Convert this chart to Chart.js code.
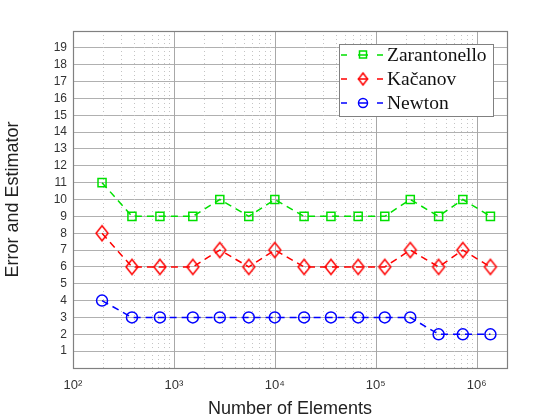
<!DOCTYPE html>
<html><head><meta charset="utf-8">
<script src="https://cdn.jsdelivr.net/npm/chart.js@4/dist/chart.umd.min.js"></script>
<style>html,body{margin:0;padding:0;background:#fff}#wrap{width:560px;height:420px}</style>
</head><body><div id="wrap"><canvas id="c" width="560" height="420"></canvas></div>
<script>
// ---- data ----
const elements = [194, 384, 727, 1540, 2850, 5520, 10000, 19500, 36000, 67000, 123000, 220000, 420000, 730000, 1370000];
const zarantonello = [11, 9, 9, 9, 10, 9, 10, 9, 9, 9, 9, 10, 9, 10, 9];
const kacanov = [8, 6, 6, 6, 7, 6, 7, 6, 6, 6, 6, 7, 6, 7, 6];
const newton = [4, 3, 3, 3, 3, 3, 3, 3, 3, 3, 3, 3, 2, 2, 2];
const seriesNames = ['Zarantonello', 'Kačanov', 'Newton'];
const xDecades = [100, 1000, 10000, 100000, 1000000];
const xTickLabels = ['10²', '10³', '10⁴', '10⁵', '10⁶'];
const yTickValues = [1,2,3,4,5,6,7,8,9,10,11,12,13,14,15,16,17,18,19];
const xTitle = 'Number of Elements';
const yTitle = 'Error and Estimator';

const GREEN = '#00e000', RED = '#ff0000', BLUE = '#0000ff';

function diamond(color, w, h, lw) {
  const c = document.createElement('canvas');
  c.width = w + 4; c.height = h + 4;
  const g = c.getContext('2d');
  g.strokeStyle = color; g.lineWidth = lw; g.lineJoin = 'miter';
  const cx = c.width / 2, cy = c.height / 2;
  g.beginPath();
  g.moveTo(cx, cy - h / 2); g.lineTo(cx + w / 2, cy);
  g.lineTo(cx, cy + h / 2); g.lineTo(cx - w / 2, cy); g.closePath(); g.stroke();
  return c;
}
const diamondImg = diamond(RED, 12, 15, 1.5);
const diamondLegend = diamond(RED, 9, 12, 1.5);

const toPts = arr => arr.map((v, i) => ({x: elements[i], y: v}));

function ds(label, values, color, style, radius) {
  return {
    label, data: toPts(values), borderColor: color, backgroundColor: color,
    borderWidth: 1.5, borderDash: [7, 5], tension: 0, fill: false,
    pointStyle: style, pointRadius: radius, pointHoverRadius: radius,
    pointBorderColor: color, pointBackgroundColor: 'rgba(0,0,0,0)', pointBorderWidth: 1.5
  };
}

const frame = {
  id: 'frame',
  beforeDatasetsDraw(chart) {
    const {ctx, chartArea: a, scales: {x}} = chart;
    ctx.save();
    ctx.lineWidth = 1;
    for (const d of xDecades) {
      for (let m = 2; m <= 9; m++) {
        const v = m * d;
        if (v >= x.max) continue;
        const px = Math.round(x.getPixelForValue(v)) + 0.5;
        ctx.strokeStyle = '#c4c4c4'; ctx.setLineDash([1, 3]);
        ctx.beginPath(); ctx.moveTo(px, a.top); ctx.lineTo(px, a.bottom); ctx.stroke();
      }
      const px = Math.round(x.getPixelForValue(d)) + 0.5;
      ctx.strokeStyle = '#a8a8a8'; ctx.setLineDash([]);
      ctx.beginPath(); ctx.moveTo(px, a.top); ctx.lineTo(px, a.bottom); ctx.stroke();
    }
    ctx.restore();
  },
  afterDatasetsDraw(chart) {
    const {ctx, chartArea: a} = chart;
    ctx.save();
    ctx.strokeStyle = '#808080'; ctx.lineWidth = 1.2; ctx.setLineDash([]);
    ctx.strokeRect(Math.round(a.left) + 0.5, Math.round(a.top) + 0.5, Math.round(a.right - a.left), Math.round(a.bottom - a.top));
    ctx.restore();
  },
  afterDraw(chart) {
    const {ctx} = chart;
    const bx = 339, by = 44, bw = 154, bh = 72;
    ctx.save();
    ctx.fillStyle = '#fff'; ctx.fillRect(bx, by, bw, bh);
    ctx.strokeStyle = '#808080'; ctx.lineWidth = 1;
    ctx.strokeRect(bx + 0.5, by + 0.5, bw, bh);
    const rows = [55, 79, 103];
    const colors = [GREEN, RED, BLUE];
    chart.data.datasets.forEach((d, i) => {
      const y = rows[i];
      ctx.strokeStyle = colors[i]; ctx.lineWidth = 1.5; ctx.setLineDash([]);
      ctx.beginPath();
      ctx.moveTo(341, y); ctx.lineTo(347, y);
      ctx.moveTo(377, y); ctx.lineTo(383, y);
      ctx.moveTo(358, y); ctx.lineTo(368, y);
      ctx.stroke();
      if (i === 0) {
        ctx.strokeRect(359.5, y - 4, 7, 7);
      } else if (i === 1) {
        ctx.drawImage(diamondLegend, 363 - diamondLegend.width / 2, y - diamondLegend.height / 2);
      } else {
        ctx.beginPath(); ctx.arc(363, y, 4.5, 0, Math.PI * 2); ctx.stroke();
      }
      ctx.fillStyle = '#111';
      ctx.font = '19.5px "Liberation Serif", "DejaVu Serif", serif';
      ctx.textBaseline = 'middle'; ctx.textAlign = 'left';
      ctx.fillText(d.label, 387, y + 1);
    });
    ctx.restore();
  }
};

new Chart(document.getElementById('c'), {
  type: 'line',
  data: {
    datasets: [
      ds(seriesNames[0], zarantonello, GREEN, 'rect', 5.7),
      ds(seriesNames[1], kacanov, RED, diamondImg, 7),
      ds(seriesNames[2], newton, BLUE, 'circle', 5.5)
    ]
  },
  options: {
    responsive: false, animation: false, devicePixelRatio: 1,
    layout: {padding: {left: 0, top: 31, right: 53, bottom: 0}},
    plugins: {legend: {display: false}, tooltip: {enabled: false}},
    scales: {
      x: {
        type: 'logarithmic', min: 100, max: 2000000,
        grid: {display: false, drawTicks: false}, border: {display: false},
        afterBuildTicks: s => { s.ticks = xDecades.map(v => ({value: v})); },
        afterFit: s => { s.height = 52; },
        ticks: {
          autoSkip: false, maxRotation: 0, padding: 10, color: '#333',
          font: {family: '"Liberation Sans", Arial, sans-serif', size: 13},
          callback: v => { const i = xDecades.indexOf(v); return i >= 0 ? xTickLabels[i] : ''; }
        },
        title: {display: true, text: xTitle, color: '#222', padding: {top: 0, bottom: 0},
          font: {family: '"Liberation Sans", Arial, sans-serif', size: 18}}
      },
      y: {
        min: 0, max: 20,
        grid: {color: '#b0b0b0', drawTicks: false, lineWidth: 1}, border: {display: false},
        afterBuildTicks: s => { s.ticks = [0].concat(yTickValues, [20]).map(v => ({value: v})); },
        afterFit: s => { s.width = 73; },
        ticks: {
          autoSkip: false, padding: 6, color: '#333',
          font: {family: '"Liberation Sans", Arial, sans-serif', size: 12},
          callback: v => yTickValues.includes(v) ? String(v) : ''
        },
        title: {display: true, text: yTitle, color: '#222', padding: {top: 2, bottom: 0},
          font: {family: '"Liberation Sans", Arial, sans-serif', size: 18}}
      }
    }
  },
  plugins: [frame]
});
</script>
</body></html>
